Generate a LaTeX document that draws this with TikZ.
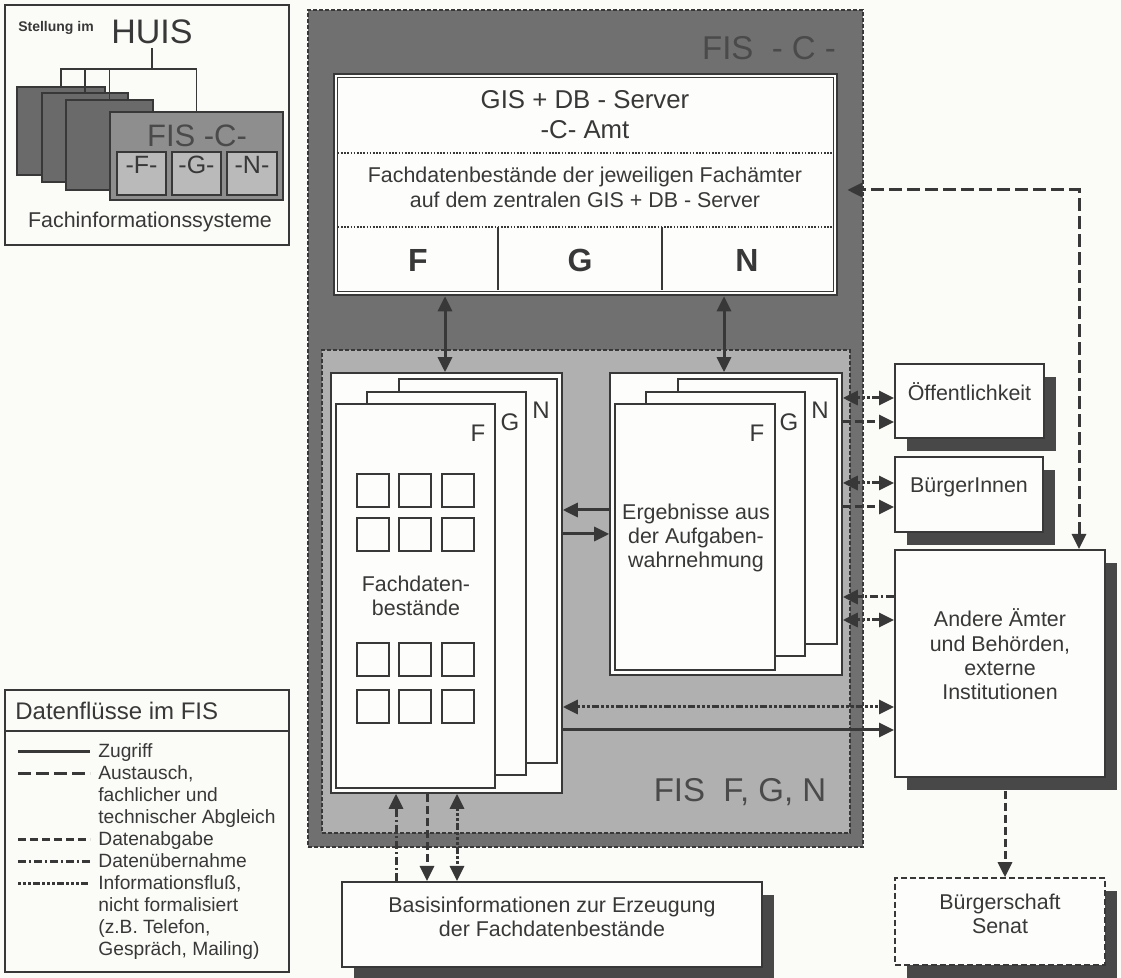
\documentclass[tikz,border=0pt]{standalone}
\usepackage{fontspec}
\setmainfont{Liberation Sans}
\usetikzlibrary{arrows.meta,fit,shadows,calc}
\definecolor{inkc}{HTML}{383838}
\definecolor{darkbg}{HTML}{707070}
\definecolor{lightbg}{HTML}{B0B0B0}
\definecolor{shadowc}{HTML}{484848}
\definecolor{paperc}{HTML}{FBFBF7}
\definecolor{titlec}{HTML}{4A4A4A}
\definecolor{cardgray}{HTML}{6A6A6A}
\definecolor{midgray}{HTML}{8E8E8E}
\definecolor{subgray}{HTML}{BABABA}
\definecolor{cardw}{HTML}{FDFDFB}
\newcommand\fmain{\fontsize{10.7pt}{12.2pt}\selectfont}
\newcommand\fgis{\fontsize{12.9pt}{15pt}\selectfont}
\newcommand\fcell{\fontsize{16pt}{18pt}\selectfont\bfseries}
\newcommand\flab{\fontsize{12pt}{14pt}\selectfont}
\newcommand\ftitle{\fontsize{16.5pt}{19pt}\selectfont}
\newcommand\fhuis{\fontsize{17pt}{20pt}\selectfont}
\newcommand\fstell{\fontsize{7pt}{8pt}\selectfont\bfseries}
\newcommand\flegh{\fontsize{12pt}{14pt}\selectfont}
\newcommand\fleg{\fontsize{9.6pt}{10.9pt}\selectfont}
\newcommand\fcardc{\fontsize{15.5pt}{18pt}\selectfont}
\newcommand\fsub{\fontsize{12.5pt}{14pt}\selectfont}
\tikzset{
  txt/.style={inner sep=0pt, text=inkc},
  box/.style={draw=inkc, line width=1pt, fill=cardw, inner sep=0pt, text=inkc},
  shbox/.style={box, font=\fmain, align=center, general shadow={fill=shadowc, shadow xshift=6pt, shadow yshift=-6.5pt}},
  minicard/.style={draw=inkc, line width=0.8pt, fill=cardgray, inner sep=0pt},
  fiscard/.style={draw=inkc, line width=0.8pt, fill=midgray, inner sep=0pt},
  subcard/.style={draw=inkc, line width=0.8pt, fill=subgray, inner sep=0pt, text=inkc, font=\fsub},
  treel/.style={draw=inkc, line width=0.8pt},
  conn/.style={draw=inkc, line width=1.5pt},
  zug/.style={conn},
  aust/.style={conn, dash pattern=on 6.5pt off 2.5pt},
  abg/.style={conn, dash pattern=on 4pt off 2pt},
  ueb/.style={conn, dash pattern=on 4pt off 1.5pt on 1pt off 1.5pt},
  inf/.style={conn, dash pattern=on 1.5pt off 1pt on 1.5pt off 1pt on 1.5pt off 1pt on 3.5pt off 1pt},
  dotl/.style={draw=inkc, line width=0.6pt, dash pattern=on 0.8pt off 0.8pt},
  sq/.style={draw=inkc, line width=0.9pt},
  legtxt/.style={txt, font=\fleg, anchor=west, text height=0.72em, text depth=0.2em},
}
\begin{document}
\begin{tikzpicture}[x=0.5pt,y=-0.5pt,>={Triangle[length=7.5pt,width=7pt]}]
\fill[paperc] (0,0) rectangle (1121,978);
\useasboundingbox (0,0) rectangle (1121,978);

% ---------- inset: Stellung im HUIS ----------
\node[fit={(5,5)(289,245)}, draw=inkc, line width=1pt, inner sep=0pt] (inset) {};
\node[txt, font=\fstell] (stellung) at (56,28) {Stellung im};
\node[font=\fhuis, inner sep=2pt, text=inkc] (huis) at (152,32) {HUIS};
\coordinate (hub) at (152,69);
\node[minicard, fit={(17,87)(105,175)}] (k1) {};
\node[minicard, fit={(42,93)(128,182)}] (k2) {};
\node[minicard, fit={(66,100)(153,190)}] (k3) {};
\node[fiscard, fit={(110,112)(283,200)}] (k4) {};
\node[txt, font=\fcardc, text=titlec] (k4t) at (197,136) {FIS -C-};
\node[subcard, fit={(117,152)(166,195)}] (kf) {-F-};
\node[subcard, fit={(172,152)(221,195)}] (kg) {-G-};
\node[subcard, fit={(227,152)(277,195)}] (kn) {-N-};
\draw[treel] (huis.south) -- (hub);
\foreach \k in {k1,k2,k3,k4} \draw[treel] (\k.north) |- (hub);
\node[txt, font=\fmain] (fachinf) at (150,222) {Fachinformationssysteme};

% ---------- legend ----------
\node[fit={(5,690)(289,972)}, draw=inkc, line width=1pt, inner sep=0pt] (legend) {};
\draw[inkc, line width=1pt] (legend.west |- 0,731) -- (legend.east |- 0,731);
\node[txt, font=\flegh, anchor=west] (lhead) at (15,711) {Datenflüsse im FIS};
\draw[zug]  (18,752) -- (90,752);
\draw[aust] (18,774) -- (90,774);
\draw[abg]  (18,840) -- (90,840);
\draw[ueb]  (18,862) -- (90,862);
\draw[inf]  (18,884) -- (90,884);
\node[legtxt] (l1) at (98,752) {Zugriff};
\node[legtxt] (l2) at (98,774) {Austausch,};
\node[legtxt] (l3) at (98,796) {fachlicher und};
\node[legtxt] (l4) at (98,818) {technischer Abgleich};
\node[legtxt] (l5) at (98,840) {Datenabgabe};
\node[legtxt] (l6) at (98,862) {Datenübernahme};
\node[legtxt] (l7) at (98,884) {Informationsfluß,};
\node[legtxt] (l8) at (98,906) {nicht formalisiert};
\node[legtxt] (l9) at (98,928) {(z.B. Telefon,};
\node[legtxt] (l10) at (98,950) {Gespräch, Mailing)};

% ---------- FIS -C- ----------
\node[fit={(308,10)(863,847)}, fill=darkbg, draw=inkc, line width=0.8pt, dash pattern=on 2pt off 1pt, inner sep=0pt] (fisc) {};
\node[txt, font=\ftitle, text=titlec] (fisct) at (769,48) {FIS\ \ - C -};
\node[fit={(322,350)(850,833)}, fill=lightbg, draw=inkc, line width=0.7pt, dash pattern=on 2pt off 1pt, inner sep=0pt] (fgn) {};
\node[txt, font=\ftitle, text=titlec] (fgnt) at (740,792) {FIS\ \ F, G, N};

% GIS + DB server
\node[box, line width=1.3pt, fit={(334,74)(837,295)}] (gis) {};
\draw[inkc, line width=0.7pt] ($(gis.north west)+(5,5)$) rectangle ($(gis.south east)+(-5,-5)$);
\node[txt, font=\fgis] (g1) at (585,100) {GIS + DB - Server};
\node[txt, font=\fgis] (g2) at (585,130) {-C- Amt};
\draw[dotl] ($(gis.west |- 0,153)+(5,0)$) -- ($(gis.east |- 0,153)+(-5,0)$);
\node[txt, font=\fmain] (g3) at (585,177) {Fachdatenbestände der jeweiligen Fachämter};
\node[txt, font=\fmain] (g4) at (585,200) {auf dem zentralen GIS + DB - Server};
\draw[dotl] ($(gis.west |- 0,227)+(5,0)$) -- ($(gis.east |- 0,227)+(-5,0)$);
\draw[inkc, line width=0.7pt] (498,227) -- (498,290);
\draw[inkc, line width=0.7pt] (662,227) -- (662,290);
\node[txt, font=\fcell] (cf) at (418,260) {F};
\node[txt, font=\fcell] (cg) at (580,260) {G};
\node[txt, font=\fcell] (cn) at (747,260) {N};

% left stack
\node[box, line width=0.8pt, fit={(331,373)(562,793)}] (lfr) {};
\node[box, fit={(399,379)(557,763)}] (ln) {};
\node[box, fit={(367,392)(526,775)}] (lg) {};
\node[box, fit={(336,404)(495,788)}] (lf) {};
\node[txt, font=\flab] (lnl) at (541,410) {N};
\node[txt, font=\flab] (lgl) at (510,422) {G};
\node[txt, font=\flab] (lfl) at (478,433) {F};
\foreach \x in {357,399,442} \foreach \y in {474,518,643,690} \draw[sq] (\x,\y) rectangle ++(32,33);
\node[txt, font=\fmain, align=center] (fdb) at (416,596) {Fachdaten-\\bestände};

% right stack
\node[box, line width=0.8pt, fit={(610,373)(842,675)}] (rfr) {};
\node[box, fit={(678,379)(837,644)}] (rn) {};
\node[box, fit={(646,392)(805,656)}] (rg) {};
\node[box, fit={(615,404)(775,670)}] (rf) {};
\node[txt, font=\flab] (rnl) at (820,410) {N};
\node[txt, font=\flab] (rgl) at (789,422) {G};
\node[txt, font=\flab] (rfl) at (757,433) {F};
\node[txt, font=\fmain, align=center] (erg) at (696,538) {Ergebnisse aus\\der Aufgaben-\\wahrnehmung};

% external boxes
\node[shbox, fit={(895,364)(1044,438)}] (oeff) {Öffentlichkeit};
\node[shbox, fit={(895,457)(1043,532)}] (buerg) {BürgerInnen};
\node[shbox, fit={(895,550)(1105,777)}] (andere) {Andere Ämter\\und Behörden,\\externe\\Institutionen};
\node[shbox, line width=0.8pt, dash pattern=on 3pt off 1.5pt, fit={(895,878)(1105,965)}] (senat) {Bürgerschaft\\Senat};
\node[shbox, fit={(342,882)(762,967)}] (basis) {Basisinformationen zur Erzeugung\\der Fachdatenbestände};

% ---------- connectors ----------
\draw[zug,<->] (gis.south -| 445,0) -- (lfr.north -| 445,0);
\draw[zug,<->] (gis.south -| 724,0) -- (rfr.north -| 724,0);
\draw[zug,->] (rfr.west |- 0,510) -- (lfr.east |- 0,510);
\draw[zug,->] (lfr.east |- 0,534) -- (rfr.west |- 0,534);
\draw[inf,<->] (rfr.east |- 0,398) -- (oeff.west |- 0,398);
\draw[abg,->] (rfr.east |- 0,422) -- (oeff.west |- 0,422);
\draw[inf,<->] (rfr.east |- 0,483) -- (buerg.west |- 0,483);
\draw[abg,->] (rfr.east |- 0,507) -- (buerg.west |- 0,507);
\draw[ueb,->] (andere.west |- 0,597) -- (rfr.east |- 0,597);
\draw[inf,<->] (rfr.east |- 0,620) -- (andere.west |- 0,620);
\draw[inf,<->] (lfr.east |- 0,707) -- (andere.west |- 0,707);
\draw[zug,->] (lfr.east |- 0,730) -- (andere.west |- 0,730);
\draw[aust,<->, shorten >=4.5pt] (andere.north -| 1079,0) |- (gis.east |- 0,190);
\draw[abg,->, shorten <=6.5pt] (andere.south -| 1005,0) -- (senat.north -| 1005,0);
\draw[ueb,->] (basis.north -| 396,0) -- (lfr.south -| 396,0);
\draw[abg,->] (lfr.south -| 427,0) -- (basis.north -| 427,0);
\draw[inf,<->] (lfr.south -| 457,0) -- (basis.north -| 457,0);
\end{tikzpicture}
\end{document}
